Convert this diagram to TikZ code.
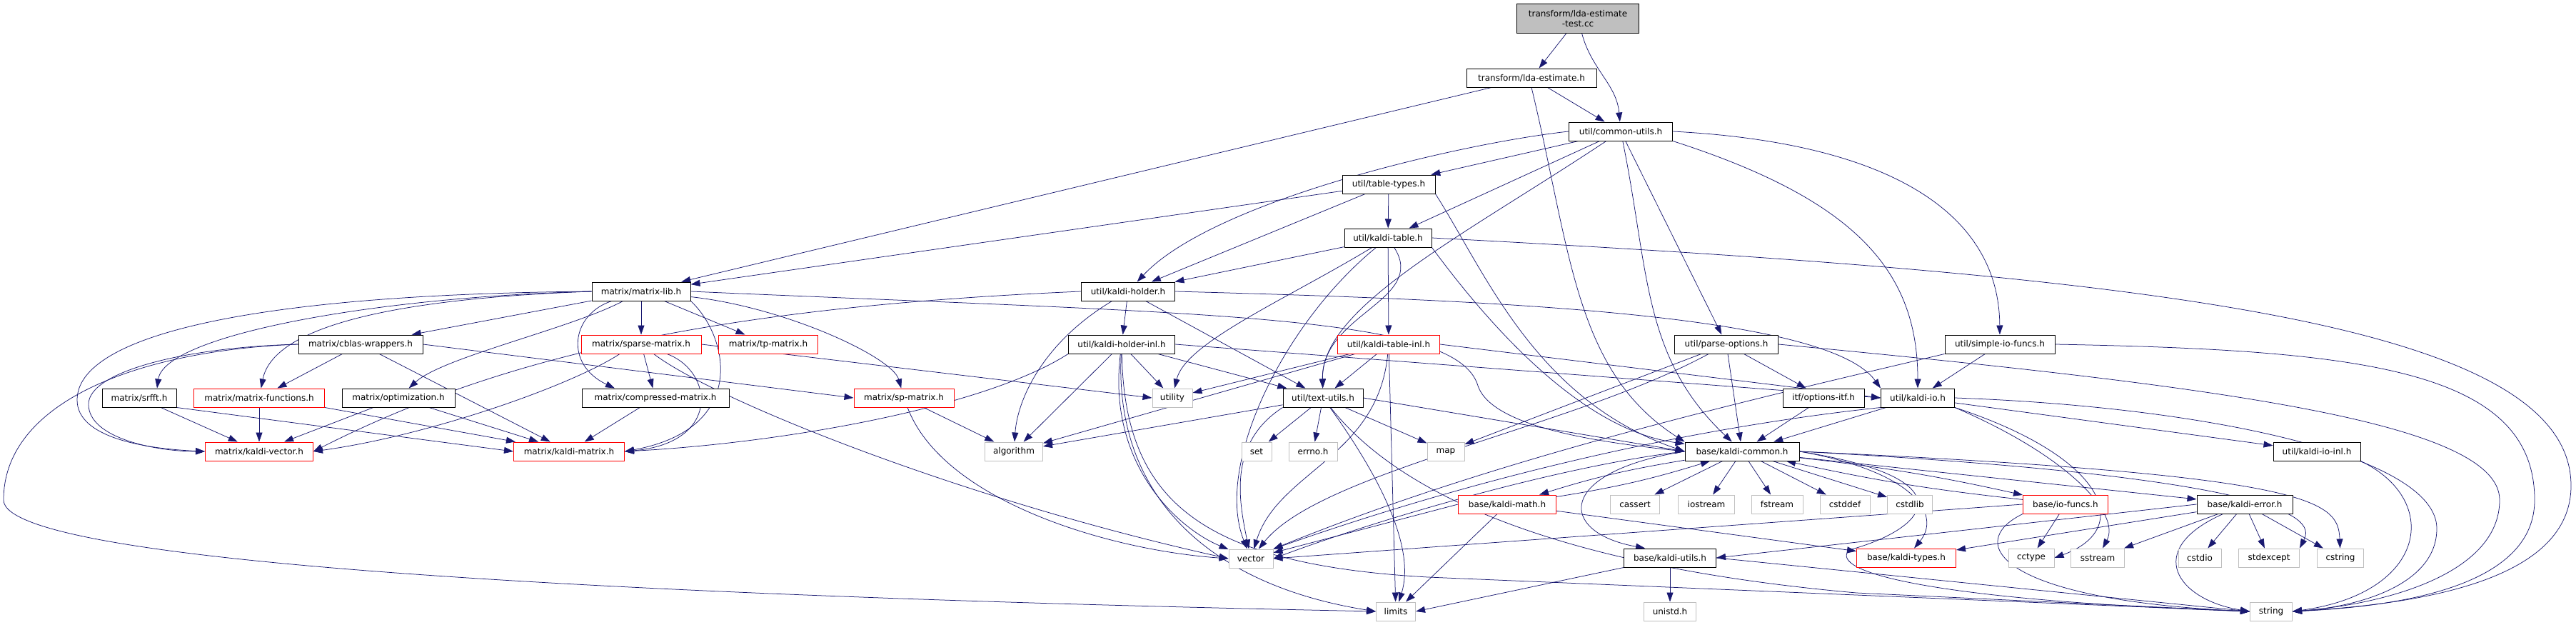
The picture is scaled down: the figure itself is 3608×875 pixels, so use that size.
\documentclass[tikz,border=0pt]{standalone}
\usepackage{fontspec}
\setmainfont{DejaVu Sans}
\usetikzlibrary{arrows.meta,backgrounds}
\definecolor{edgeblue}{RGB}{25,25,112}
\definecolor{sysgray}{RGB}{191,191,191}
\begin{document}
\begin{tikzpicture}[x=1pt,y=1pt,
    box/.style={rectangle,inner sep=0pt,minimum height=26pt,line width=1pt,
      font=\fontsize{12}{14}\selectfont,fill=white},
    hdr/.style={box,draw=black,minimum width=#1},
    trunc/.style={box,draw=red,minimum width=#1},
    sys/.style={box,draw=sysgray,minimum width=#1},
    edge/.style={draw=edgeblue,line width=0.75pt,-{Triangle[length=13pt,width=9pt]}}]
  \useasboundingbox (0,0) rectangle (3608,-875);
  % rows of the include graph
  \node[hdr=171pt,fill=sysgray,minimum height=41pt,align=center] (root) at (2210,-26) {transform/lda-estimate\\-test.cc};
  \node[hdr=182pt] (lda) at (2145,-109) {transform/lda-estimate.h};
  \node[hdr=145pt] (cutils) at (2270,-184) {util/common-utils.h};
  \node[hdr=130pt] (ttypes) at (1945,-258) {util/table-types.h};
  \node[hdr=122pt] (ktable) at (1944,-333) {util/kaldi-table.h};
  \node[hdr=138pt] (mlib) at (898,-408) {matrix/matrix-lib.h};
  \node[hdr=131pt] (kholder) at (1580,-408) {util/kaldi-holder.h};
  \node[hdr=174pt] (cblas) at (505,-482) {matrix/cblas-wrappers.h};
  \node[trunc=168pt] (sparse) at (898,-482) {matrix/sparse-matrix.h};
  \node[trunc=139pt] (tpmat) at (1076,-482) {matrix/tp-matrix.h};
  \node[hdr=149pt] (kholderinl) at (1571,-482) {util/kaldi-holder-inl.h};
  \node[trunc=143pt] (ktableinl) at (1945,-482) {util/kaldi-table-inl.h};
  \node[hdr=145pt] (parseopt) at (2418,-482) {util/parse-options.h};
  \node[hdr=154pt] (simpleio) at (2801,-482) {util/simple-io-funcs.h};
  \node[hdr=104pt] (srfft) at (195,-557) {matrix/srfft.h};
  \node[trunc=183pt] (mfunc) at (363,-557) {matrix/matrix-functions.h};
  \node[hdr=158pt] (optim) at (558,-557) {matrix/optimization.h};
  \node[hdr=206pt] (cmat) at (918,-557) {matrix/compressed-matrix.h};
  \node[trunc=140pt] (spmat) at (1266,-557) {matrix/sp-matrix.h};
  \node[sys=56pt] (utility) at (1642,-557) {utility};
  \node[hdr=112pt] (textutils) at (1853,-557) {util/text-utils.h};
  \node[hdr=114pt] (optitf) at (2554,-557) {itf/options-itf.h};
  \node[hdr=103pt] (kio) at (2686,-557) {util/kaldi-io.h};
  \node[trunc=151pt] (kvec) at (363,-632) {matrix/kaldi-vector.h};
  \node[trunc=155pt] (kmat) at (797,-632) {matrix/kaldi-matrix.h};
  \node[sys=81pt] (algorithm) at (1420,-632) {algorithm};
  \node[sys=42pt] (set) at (1760,-632) {set};
  \node[sys=68pt] (errno) at (1839,-632) {errno.h};
  \node[sys=52pt] (map) at (2025,-632) {map};
  \node[hdr=160pt] (common) at (2440,-632) {base/kaldi-common.h};
  \node[hdr=122pt] (kioinl) at (3245,-632) {util/kaldi-io-inl.h};
  \node[trunc=137pt] (kmath) at (2111,-706) {base/kaldi-math.h};
  \node[sys=69pt] (cassert) at (2290,-706) {cassert};
  \node[sys=79pt] (iostream) at (2390,-706) {iostream};
  \node[sys=72pt] (fstream) at (2489,-706) {fstream};
  \node[sys=70pt] (cstddef) at (2584,-706) {cstddef};
  \node[sys=63pt] (cstdlib) at (2675,-706) {cstdlib};
  \node[trunc=119pt] (iofuncs) at (2893,-706) {base/io-funcs.h};
  \node[hdr=134pt] (kerror) at (3144,-706) {base/kaldi-error.h};
  \node[sys=62pt] (vector) at (1752,-782) {vector};
  \node[hdr=129pt] (kutils) at (2339,-781) {base/kaldi-utils.h};
  \node[trunc=139pt] (ktypes) at (2670,-781) {base/kaldi-types.h};
  \node[sys=64pt] (cctype) at (2845,-781) {cctype};
  \node[sys=75pt] (sstream) at (2938,-781) {sstream};
  \node[sys=60pt] (cstdio) at (3081,-781) {cstdio};
  \node[sys=85pt] (stdexcept) at (3178,-781) {stdexcept};
  \node[sys=65pt] (cstring) at (3278,-781) {cstring};
  \node[sys=55pt] (limits) at (1955,-856) {limits};
  \node[sys=73pt] (unistd) at (2339,-856) {unistd.h};
  \node[sys=59pt] (string) at (3181,-856) {string};
  \begin{scope}[on background layer]
  % top
  \draw[edge] (root) -- (lda);
  \draw[edge] (root) to[out=-75,in=95] (cutils);
  \draw[edge] (lda) -- (cutils);
  \draw[edge] (lda) -- (mlib);
  \draw[edge] (lda.south) .. controls (2200,-350) and (2205,-520) .. (common.north west);
  % util/common-utils.h
  \draw[edge] (cutils) -- (ttypes);
  \draw[edge] (cutils) -- (ktable);
  \draw[edge] (cutils.west) .. controls (2050,-200) and (1700,-280) .. (kholder);
  \draw[edge] (cutils) .. controls (2050,-330) and (1850,-430) .. (textutils);
  \draw[edge] (cutils) .. controls (2310,-380) and (2300,-500) .. (common);
  \draw[edge] (cutils) -- (parseopt);
  \draw[edge] (cutils.south east) .. controls (2600,-280) and (2686,-380) .. (kio);
  \draw[edge] (cutils.east) .. controls (2650,-200) and (2800,-300) .. (simpleio);
  % util/table-types.h, util/kaldi-table.h
  \draw[edge] (ttypes) -- (mlib);
  \draw[edge] (ttypes) -- (kholder);
  \draw[edge] (ttypes) -- (ktable);
  \draw[edge] (ttypes.south east) .. controls (2080,-380) and (2150,-560) .. (common.west);
  \draw[edge] (ktable) -- (kholder);
  \draw[edge] (ktable) .. controls (1800,-420) and (1660,-480) .. (utility);
  \draw[edge] (ktable) -- (ktableinl);
  \draw[edge] (ktable) .. controls (2000,-420) and (1850,-440) .. (textutils);
  \draw[edge] (ktable) .. controls (1800,-450) and (1700,-650) .. (vector);
  \draw[edge] (ktable.south east) .. controls (2060,-420) and (2200,-600) .. (common);
  \draw[edge] (ktable.east) .. controls (3000,-385) and (3601,-450) .. (3601,-680)
    .. controls (3601,-810) and (3400,-845) .. (string.east);
  % matrix/matrix-lib.h
  \draw[edge] (mlib) -- (cblas);
  \draw[edge] (mlib) -- (sparse);
  \draw[edge] (mlib) -- (tpmat);
  \draw[edge] (mlib) .. controls (800,-460) and (620,-500) .. (optim);
  \draw[edge] (mlib) .. controls (800,-440) and (790,-510) .. ([xshift=-57pt]cmat.north);
  \draw[edge] (mlib.west) .. controls (520,-416) and (230,-470) .. ([xshift=25pt]srfft.north);
  \draw[edge] (mlib.west) .. controls (500,-420) and (380,-470) .. (mfunc);
  \draw[edge] (mlib.west) .. controls (350,-412) and (108,-470) .. (108,-560)
    .. controls (108,-612) and (200,-628) .. (kvec.west);
  \draw[edge] (mlib) .. controls (1100,-430) and (1250,-500) .. (spmat);
  \draw[edge] (mlib.south east) .. controls (1020,-470) and (1050,-600) .. (kmat.east);
  \draw[edge] (mlib.east) .. controls (1700,-440) and (2040,-440) .. (2070,-540)
    .. controls (2090,-600) and (2250,-620) .. (common.west);
  % util/kaldi-holder.h and -inl
  \draw[edge] (kholder) -- (kholderinl);
  \draw[edge] (kholder) .. controls (1460,-480) and (1425,-560) .. (algorithm);
  \draw[edge] (kholder) -- (textutils);
  \draw[edge] (kholder.west) .. controls (1000,-430) and (700,-500) .. (kvec.east);
  \draw[edge] (kholder.east) .. controls (2100,-420) and (2560,-440) .. (kio.north west);
  \draw[edge] (kholderinl) -- (algorithm);
  \draw[edge] (kholderinl) -- (utility);
  \draw[edge] (kholderinl) -- (textutils);
  \draw[edge] (kholderinl) .. controls (1550,-650) and (1650,-740) .. (vector);
  \draw[edge] (kholderinl) .. controls (1560,-700) and (1700,-820) .. (limits.west);
  \draw[edge] (kholderinl.south west) .. controls (1380,-570) and (1100,-620) .. (kmat.east);
  \draw[edge] (kholderinl.east) -- (kio.west);
  \draw[edge] (kholderinl) .. controls (1575,-700) and (1680,-790) .. (2000,-808) -- (string.west);
  % util/kaldi-table-inl.h
  \draw[edge] (ktableinl) -- (utility);
  \draw[edge] (ktableinl) -- (algorithm);
  \draw[edge] (ktableinl) -- (textutils);
  \draw[edge] (ktableinl) .. controls (1930,-640) and (1790,-660) .. (vector);
  \draw[edge] (ktableinl) -- (limits);
  \draw[edge] (ktableinl.east) -- (kio.west);
  % matrix headers
  \draw[edge] (cblas) -- (mfunc);
  \draw[edge] (cblas) -- (kmat);
  \draw[edge] (cblas.east) -- (spmat.west);
  \draw[edge] (cblas.west) .. controls (260,-486) and (124,-520) .. (124,-566)
    .. controls (124,-614) and (220,-632) .. (kvec.west);
  \draw[edge] (cblas.west) .. controls (200,-490) and (5,-560) .. (5,-700)
    .. controls (5,-790) and (900,-835) .. (limits.west);
  \draw[edge] (sparse) -- (cmat);
  \draw[edge] ([xshift=-30pt]sparse.south) .. controls (800,-540) and (600,-610) .. (kvec.east);
  \draw[edge] (sparse) .. controls (1000,-520) and (1010,-620) .. (kmat.east);
  \draw[edge] (sparse.east) -- (utility.west);
  \draw[edge] (sparse) .. controls (1000,-560) and (1350,-700) .. (vector.west);
  \draw[edge] (srfft) -- (kvec);
  \draw[edge] (srfft.south east) -- (kmat.west);
  \draw[edge] (mfunc) -- (kvec);
  \draw[edge] (mfunc.south east) -- (kmat);
  \draw[edge] (optim) -- (kvec);
  \draw[edge] (optim) -- (kmat);
  \draw[edge] (cmat) -- (kmat);
  \draw[edge] (spmat) -- (algorithm);
  \draw[edge] (spmat) .. controls (1320,-700) and (1550,-770) .. (vector.west);
  % util/text-utils.h
  \draw[edge] (textutils) -- (algorithm);
  \draw[edge] (textutils) -- (set);
  \draw[edge] (textutils) -- (errno);
  \draw[edge] (textutils) -- (map);
  \draw[edge] (textutils.south west) .. controls (1720,-620) and (1735,-700) .. (vector);
  \draw[edge] (textutils) .. controls (1920,-650) and (1985,-760) .. (limits);
  \draw[edge] (textutils.east) -- (common.west);
  \draw[edge] (textutils) .. controls (1950,-680) and (2150,-790) .. (2600,-830) -- (string.west);
  % parse options, simple io, kaldi-io
  \draw[edge] (parseopt) -- (map);
  \draw[edge] (parseopt) .. controls (2200,-600) and (1850,-660) .. (vector);
  \draw[edge] (parseopt) -- (common);
  \draw[edge] (parseopt) -- (optitf);
  \draw[edge] (parseopt.east) .. controls (3100,-540) and (3501,-590) .. (3501,-700)
    .. controls (3501,-800) and (3350,-845) .. (string.east);
  \draw[edge] (simpleio) -- (kio);
  \draw[edge] (simpleio.south west) .. controls (2450,-560) and (2100,-640) .. (vector.north east);
  \draw[edge] (simpleio.east) .. controls (3300,-490) and (3550,-515) .. (3550,-700)
    .. controls (3550,-815) and (3380,-848) .. (string.east);
  \draw[edge] (optitf) -- (common);
  \draw[edge] (kio) -- (common);
  \draw[edge] (kio) -- (kioinl);
  \draw[edge] (kio.east) .. controls (3100,-570) and (3413,-640) .. (3413,-740)
    .. controls (3413,-820) and (3300,-850) .. (string.east);
  \draw[edge] (kio.south east) .. controls (2950,-640) and (2990,-740) .. (cctype.east);
  \draw[edge] (kio.south east) .. controls (2900,-640) and (2970,-720) .. (sstream);
  \draw[edge] (kio.south west) .. controls (2450,-590) and (2150,-640) .. (vector.north east);
  \draw[edge] (kioinl.south east) .. controls (3420,-700) and (3400,-830) .. (string.east);
  % base/kaldi-common.h
  \draw[edge] (common) -- (cassert);
  \draw[edge] (common) -- (iostream);
  \draw[edge] (common) -- (fstream);
  \draw[edge] (common) -- (cstddef);
  \draw[edge] (common) -- (cstdlib);
  \draw[edge] (common) to[bend right=4] (kmath);
  \draw[edge] (kmath) to[bend right=4] (common);
  \draw[edge] (common) to[bend left=3] (iofuncs);
  \draw[edge] (iofuncs) to[bend left=3] (common);
  \draw[edge] (common) -- (kerror);
  \draw[edge] (common.west) .. controls (2180,-660) and (2180,-745) .. ([xshift=-35pt]kutils.north);
  \draw[edge] (common.west) .. controls (2200,-650) and (1950,-720) .. (vector.east);
  \draw[edge] (common.east) .. controls (2680,-660) and (2720,-720) .. (ktypes);
  \draw[edge] (common.east) .. controls (3230,-670) and (3240,-730) .. (stdexcept.north east);
  \draw[edge] (common.east) .. controls (3240,-665) and (3275,-700) .. (cstring);
  \draw[edge] (common.east) .. controls (2760,-670) and (2700,-740) .. (2590,-770)
    .. controls (2560,-800) and (2700,-840) .. (string.west);
  % base headers
  \draw[edge] (kmath) -- (ktypes);
  \draw[edge] (kmath.west) -- (vector);
  \draw[edge] (kmath) -- (limits);
  \draw[edge] (iofuncs) -- (cctype);
  \draw[edge] (iofuncs.south west) .. controls (2750,-760) and (2800,-840) .. (string.west);
  \draw[edge] (iofuncs.west) -- (vector.east);
  \draw[edge] (kerror) -- (ktypes);
  \draw[edge] (kerror.west) -- (kutils.east);
  \draw[edge] (kerror) -- (sstream);
  \draw[edge] (kerror) -- (cstdio);
  \draw[edge] (kerror) -- (stdexcept);
  \draw[edge] (kerror) -- (cstring);
  \draw[edge] (kerror) .. controls (3000,-770) and (3050,-840) .. (string.west);
  \draw[edge] (kutils) -- (unistd);
  \draw[edge] (kutils.south west) -- (limits.east);
  \draw[edge] (kutils.east) -- (string.west);
  \end{scope}
\end{tikzpicture}
\end{document}
